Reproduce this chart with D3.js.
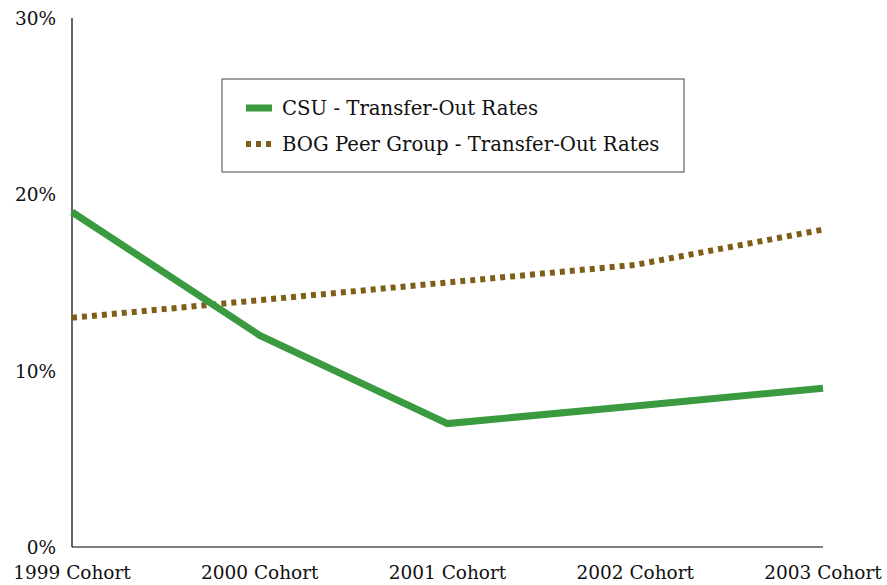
<!DOCTYPE html>
<html>
<head>
<meta charset="utf-8">
<script src="https://cdn.jsdelivr.net/npm/d3@7"></script>
<style>
  body { margin: 0; background: #fff; }
  svg text { font-family: "DejaVu Serif", "Liberation Serif", serif; fill: #111; }
</style>
</head>
<body>
<svg id="chart" width="887" height="585"></svg>
<script>
// data
const cohorts = ['1999 Cohort', '2000 Cohort', '2001 Cohort', '2002 Cohort', '2003 Cohort']
const csuRates = [0.19, 0.12, 0.07, 0.08, 0.09]
const bogRates = [0.13, 0.14, 0.15, 0.16, 0.18]
const yTicks = [0, 0.1, 0.2, 0.3]
const seriesNames = ['CSU - Transfer-Out Rates', 'BOG Peer Group - Transfer-Out Rates']

let svg = d3.select('#chart')

let plotLeft = 72, plotRight = 823, plotTop = 18, plotBottom = 547

let x = d3.scalePoint().domain(cohorts).range([plotLeft, plotRight])
let y = d3.scaleLinear().domain([0, 0.3]).range([plotBottom, plotTop])

// axes lines
svg.append('line')
    .attr('x1', plotLeft).attr('x2', plotLeft)
    .attr('y1', y(0.3)).attr('y2', y(0))
    .attr('stroke', '#000').attr('stroke-width', 1.2)
svg.append('line')
    .attr('x1', plotLeft).attr('x2', plotRight)
    .attr('y1', y(0)).attr('y2', y(0))
    .attr('stroke', '#000').attr('stroke-width', 1.2)

// y labels
svg.selectAll('.ylab')
    .data(yTicks)
    .enter()
    .append('text')
    .attr('class', 'ylab')
    .attr('x', 56)
    .attr('y', (d) => y(d) + 7)
    .attr('text-anchor', 'end')
    .style('font-size', '18.5px')
    .text((d) => d3.format('.0%')(d))

// x labels
svg.selectAll('.xlab')
    .data(cohorts)
    .enter()
    .append('text')
    .attr('class', 'xlab')
    .attr('x', (d) => x(d))
    .attr('y', 579)
    .attr('text-anchor', 'middle')
    .style('font-size', '18.5px')
    .text((d) => d)

let line = d3.line()
    .x((d, i) => x(cohorts[i]))
    .y((d) => y(d))

svg.append('path')
    .datum(bogRates)
    .attr('d', line)
    .attr('fill', 'none')
    .attr('stroke', '#7f5f17')
    .attr('stroke-width', 6)
    .attr('stroke-dasharray', '5,5')

svg.append('path')
    .datum(csuRates)
    .attr('d', line)
    .attr('fill', 'none')
    .attr('stroke', '#3a9a3f')
    .attr('stroke-width', 7)

// legend
let legend = svg.append('g').attr('transform', 'translate(222,79)')
legend.append('rect')
    .attr('width', 462).attr('height', 93)
    .attr('fill', '#fff').attr('stroke', '#444').attr('stroke-width', 1)

let styles = [
    { color: '#3a9a3f', dash: null, width: 7 },
    { color: '#7f5f17', dash: '5,5', width: 6 }
]
seriesNames.forEach((name, i) => {
    let yy = 29 + i * 36
    legend.append('line')
        .attr('x1', 24).attr('x2', 50)
        .attr('y1', yy).attr('y2', yy)
        .attr('stroke', styles[i].color)
        .attr('stroke-width', styles[i].width)
        .attr('stroke-dasharray', styles[i].dash)
    legend.append('text')
        .attr('x', 60)
        .attr('y', yy + 7)
        .style('font-size', '19.7px')
        .text(name)
})
</script>
</body>
</html>
